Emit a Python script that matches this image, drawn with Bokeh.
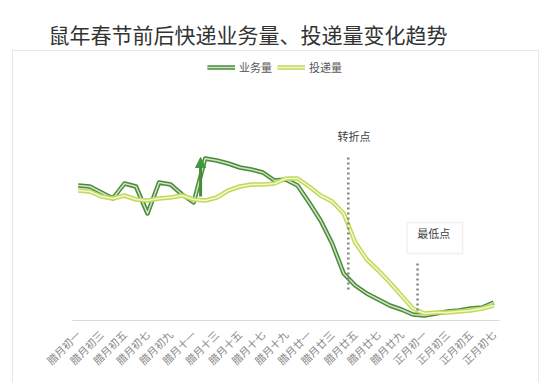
import math
from bokeh.plotting import figure
from bokeh.models import (Range1d, FixedTicker, Legend, LegendItem, Arrow,
                          NormalHead, Label, BoxAnnotation, ColumnDataSource)
from bokeh.embed import file_html
from bokeh.resources import INLINE

TITLE = "鼠年春节前后快递业务量、投递量变化趋势"
SERIES_NAMES = ["业务量", "投递量"]

DAYS = ["腊月初一", "腊月初二", "腊月初三", "腊月初四", "腊月初五", "腊月初六",
        "腊月初七", "腊月初八", "腊月初九", "腊月初十", "腊月十一", "腊月十二",
        "腊月十三", "腊月十四", "腊月十五", "腊月十六", "腊月十七", "腊月十八",
        "腊月十九", "腊月二十", "腊月廿一", "腊月廿二", "腊月廿三", "腊月廿四",
        "腊月廿五", "腊月廿六", "腊月廿七", "腊月廿八", "腊月廿九", "腊月三十",
        "正月初一", "正月初二", "正月初三", "正月初四", "正月初五", "正月初六",
        "正月初七"]

# relative index values
BUSINESS = [135, 134, 128, 122, 137, 134, 107, 138, 136, 126, 118, 162, 160,
            157, 153, 151, 148, 140, 141, 135, 118, 100, 77, 47, 35, 27, 21,
            15, 11, 6, 5, 7, 9, 10, 12, 13, 18]
DELIVERY = [130, 129, 124, 122, 125, 121, 120, 122, 123, 125, 121, 120, 123,
            130, 134, 136, 136, 137, 142, 142, 134, 125, 119, 107, 78, 61, 50,
            38, 25, 12, 7, 8, 8, 9, 10, 12, 15]

TICK_IDX = list(range(0, len(DAYS), 2))

# annotations
TURN_TEXT = "转折点"
LOW_TEXT = "最低点"
TURN_IDX = 23.4
LOW_IDX = 29.4
SPIKE_IDX = 10.6

FONT = "Noto Sans CJK SC"
BOX = "#e6e6e6"

p = figure(width=534, height=374, x_range=Range1d(-0.5, len(DAYS) - 0.5),
           y_range=Range1d(0, 265), output_backend="svg", toolbar_location=None,
           min_border_left=64, min_border_right=43, min_border_top=47,
           min_border_bottom=62, outline_line_color=None,
           border_fill_color=None, background_fill_color=None)
p.margin = (8, 0, 0, 8)
# faint chart-area box behind the transparent canvas
grad = f"linear-gradient({BOX},{BOX})"
p.styles = {
    "background": (f"{grad} 4px 42px / 1px 340px no-repeat, "
                   f"{grad} 4px 42px / 527px 1px no-repeat, "
                   f"{grad} 530px 42px / 1px 340px no-repeat, white"),
}

p.title.text = TITLE
p.title.align = "left"
p.title.offset = -24
p.title.standoff = 14
p.title.text_font = FONT
p.title.text_font_size = "21px"
p.title.text_font_style = "normal"
p.title.text_color = "#333333"

p.xgrid.visible = False
p.ygrid.visible = False
p.yaxis.visible = False

xa = p.xaxis[0]
xa.ticker = FixedTicker(ticks=TICK_IDX)
xa.major_label_overrides = {i: DAYS[i] for i in TICK_IDX}
xa.major_tick_line_color = None
xa.minor_tick_line_color = None
xa.axis_line_color = "#d9d9d9"
xa.major_label_orientation = math.pi / 4
xa.major_label_text_font = FONT
xa.major_label_text_font_size = "10.5px"
xa.major_label_text_color = "#8a8a8a"
xa.major_label_standoff = 6

src = ColumnDataSource(dict(x=list(range(len(DAYS))), b=BUSINESS, d=DELIVERY))

b_outer = p.line("x", "b", source=src, line_width=4.5, line_color="#4a8a3a",
                 line_join="round")
b_inner = p.line("x", "b", source=src, line_width=1.5, line_color="#cfe4c2",
                 line_join="round")
d_outer = p.line("x", "d", source=src, line_width=4.5, line_color="#c2d959",
                 line_join="round")
d_inner = p.line("x", "d", source=src, line_width=1.5, line_color="#f2f8d2",
                 line_join="round")

legend = Legend(items=[LegendItem(label=SERIES_NAMES[0], renderers=[b_outer, b_inner]),
                       LegendItem(label=SERIES_NAMES[1], renderers=[d_outer, d_inner])],
                orientation="horizontal", location=(135, 245), padding=0, margin=0,
                background_fill_alpha=0, border_line_color=None, glyph_width=28,
                glyph_height=12, label_standoff=4, spacing=5, label_height=12,
                label_text_font=FONT, label_text_font_size="11px",
                label_text_color="#595959")
p.add_layout(legend)

# spike arrow
p.add_layout(Arrow(x_start=SPIKE_IDX, y_start=124, x_end=SPIKE_IDX, y_end=163,
                   line_color="#4a8a3a", line_width=3,
                   end=NormalHead(size=10, fill_color="#3f9a3f", line_color="#3f9a3f")))

# dotted markers
p.segment(x0=[TURN_IDX], y0=[163], x1=[TURN_IDX], y1=[30], line_color="#858575",
          line_width=2.5, line_dash="2 3")
p.segment(x0=[LOW_IDX], y0=[57], x1=[LOW_IDX], y1=[10], line_color="#858575",
          line_width=2.5, line_dash="2 3")

p.add_layout(Label(x=23.9, y=185, text=TURN_TEXT, text_align="center",
                   text_baseline="middle", text_font=FONT, text_font_size="11px",
                   text_color="#404040"))
p.add_layout(BoxAnnotation(left=28.5, right=33.3, bottom=67, top=98, fill_alpha=0,
                           line_color="#cfcfcf", line_width=1.5))
p.add_layout(Label(x=30.8, y=88, text=LOW_TEXT, text_align="center",
                   text_baseline="middle", text_font=FONT, text_font_size="11px",
                   text_color="#404040"))

open("out.html", "w").write(file_html(p, INLINE))
